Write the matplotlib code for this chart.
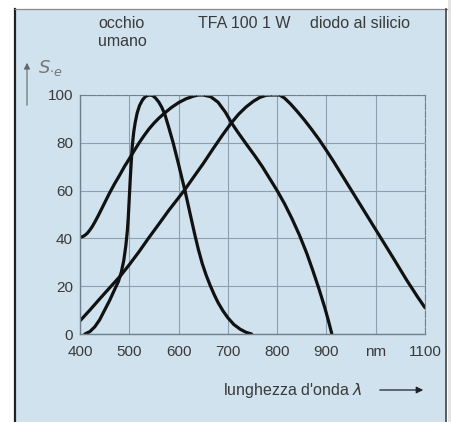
import matplotlib
matplotlib.use("Agg")
import matplotlib.pyplot as plt
from matplotlib.patches import Rectangle, FancyArrowPatch
from matplotlib.lines import Line2D

plt.rcParams['font.family'] = ['Liberation Sans', 'DejaVu Sans']

# risposta spettrale relativa (%) in funzione della lunghezza d'onda (nm)
occhio_nm = [410, 420, 430, 440, 450, 460, 470, 478, 484, 489, 493, 496, 498, 500,
             502, 504, 506, 509, 512, 516, 521, 527, 533, 540, 547, 553, 560, 566,
             572, 580, 589, 600, 607, 613, 620, 627, 633, 640, 648, 656, 664, 672,
             680, 690, 700, 712, 725, 737, 748]
occhio_val = [0, 1, 3, 6, 10, 14, 18.5, 22, 26, 31, 37, 43, 49, 57,
              65, 72, 78.5, 84.5, 88.5, 92.5, 95.7, 98, 99.4, 100, 99.8, 98.8, 97, 94.8,
              92, 86.5, 80, 71, 65, 60, 53.5, 47, 41.5, 35.5, 29.5, 24.6, 20.4, 16.6,
              13.2, 9.7, 6.8, 4, 2, 0.7, 0]

tfa_nm = [400, 405, 410, 415, 420, 425, 430, 437, 445, 452, 460, 470, 480, 490,
          500, 510, 520, 530, 540, 550, 560, 572, 585, 600, 615, 630, 640, 650,
          665, 680, 695, 707, 720, 739, 755, 770, 785, 800, 815, 830, 845, 860,
          872, 885, 897, 904, 911]
tfa_val = [40.5, 40.7, 41.3, 42.2, 43.5, 45, 46.8, 49.5, 52.8, 55.7, 59, 62.8, 66.3, 70,
           73.3, 76.7, 80, 83, 85.8, 88.2, 90.3, 92.5, 94.7, 96.8, 98.4, 99.5, 100, 100,
           99.3, 97, 92.8, 88.5, 84.5, 79, 74.5, 70, 65, 60, 54.5, 48.3, 41.5, 33.8,
           26.8, 18.8, 10.8, 5.6, 0]

diodo_nm = [400, 420, 440, 460, 482, 500, 520, 538, 560, 580, 600, 613, 630, 650,
            670, 690, 707, 722, 737, 752, 765, 778, 790, 805, 815, 827, 840, 855,
            870, 885, 900, 915, 930, 951, 978, 1005, 1035, 1063, 1085, 1100]
diodo_val = [5.5, 10, 14.7, 19.3, 24.3, 29, 34.5, 39.8, 46, 51.7, 57, 60.5, 65.5, 71.3,
             77.5, 83.5, 88.3, 92, 95, 97.4, 99, 99.9, 100, 100, 98.7, 96.3, 93.3, 89.6,
             85.6, 81.4, 76.8, 72, 67, 60, 51, 42, 32, 22.5, 15.5, 11]

xticks = [400, 500, 600, 700, 800, 900, 1000, 1100]
xlabels = ['400', '500', '600', '700', '800', '900', 'nm', '1100']
yticks = [0, 20, 40, 60, 80, 100]

W, H = 452, 422
bg = '#cfe2ee'
txt = '#3a3a3a'


def fx(px):
    return px / W


def fy(py):
    return 1 - py / H


fig = plt.figure(figsize=(W / 100, H / 100), dpi=100)
fig.patch.set_facecolor('white')

# riquadro azzurro con bordo
fig.add_artist(Rectangle((fx(15), 0), fx(447 - 15), fy(9),
                         transform=fig.transFigure, facecolor=bg,
                         edgecolor='none', zorder=0))
fig.add_artist(Line2D([fx(15), fx(15)], [0, fy(9)], transform=fig.transFigure,
                      color='#222222', lw=1.6))
fig.add_artist(Line2D([fx(15), fx(447)], [fy(9), fy(9)], transform=fig.transFigure,
                      color='#8a8a8a', lw=0.9))
fig.add_artist(Line2D([fx(446.5), fx(446.5)], [0, fy(9)], transform=fig.transFigure,
                      color='#444444', lw=1.2))
fig.add_artist(Rectangle((fx(448), 0), fx(4), 1, transform=fig.transFigure,
                         facecolor='#e4e4e4', edgecolor='none', zorder=0))

ax = fig.add_axes([fx(80), fy(334), fx(425 - 80), (334 - 95) / H])
ax.set_facecolor(bg)

for xs, ys in [(occhio_nm, occhio_val), (tfa_nm, tfa_val), (diodo_nm, diodo_val)]:
    ax.plot(xs, ys, color='#111111', lw=2.3, solid_capstyle='round',
            solid_joinstyle='round')

ax.set_xlim(400, 1100)
ax.set_ylim(0, 100)
ax.set_xticks(xticks)
ax.set_xticklabels(xlabels)
ax.set_yticks(yticks)
ax.grid(True, color='#8da0b0', lw=0.8)
ax.set_axisbelow(True)
ax.tick_params(length=0, labelsize=11, colors=txt)
ax.tick_params(axis='x', pad=8)
ax.tick_params(axis='y', pad=5)
for s in ['left', 'bottom']:
    ax.spines[s].set_color('#6f7f8c')
    ax.spines[s].set_linewidth(1.0)
for s in ['top', 'right']:
    ax.spines[s].set_color('#6f7f8c')
    ax.spines[s].set_linewidth(0.8)
    ax.spines[s].set_linestyle((0, (6, 1.5)))

# didascalie delle curve
cap = dict(fontsize=11.5, color=txt, va='center')
fig.text(fx(98), fy(23), 'occhio', **cap)
fig.text(fx(98), fy(42), 'umano', **cap)
fig.text(fx(198), fy(23), 'TFA 100 1 W', **cap)
fig.text(fx(310), fy(23), 'diodo al silicio', **cap)

# asse delle ordinate
fig.add_artist(FancyArrowPatch((fx(27), fy(108)), (fx(27), fy(60)),
                               transform=fig.transFigure, arrowstyle='-|>',
                               mutation_scale=9, color='#666666', lw=0.8))
fig.text(fx(38), fy(68), r'$S_{\cdot e}$', fontsize=13, color='#777777', va='center')

# asse delle ascisse
fig.text(fx(223), fy(390), "lunghezza d'onda $\\lambda$", fontsize=11.5, color=txt,
         va='center')
fig.add_artist(FancyArrowPatch((fx(377), fy(390)), (fx(426), fy(390)),
                               transform=fig.transFigure, arrowstyle='-|>',
                               mutation_scale=10, color='#222222', lw=0.9))

fig.savefig('out.png', dpi=100)
